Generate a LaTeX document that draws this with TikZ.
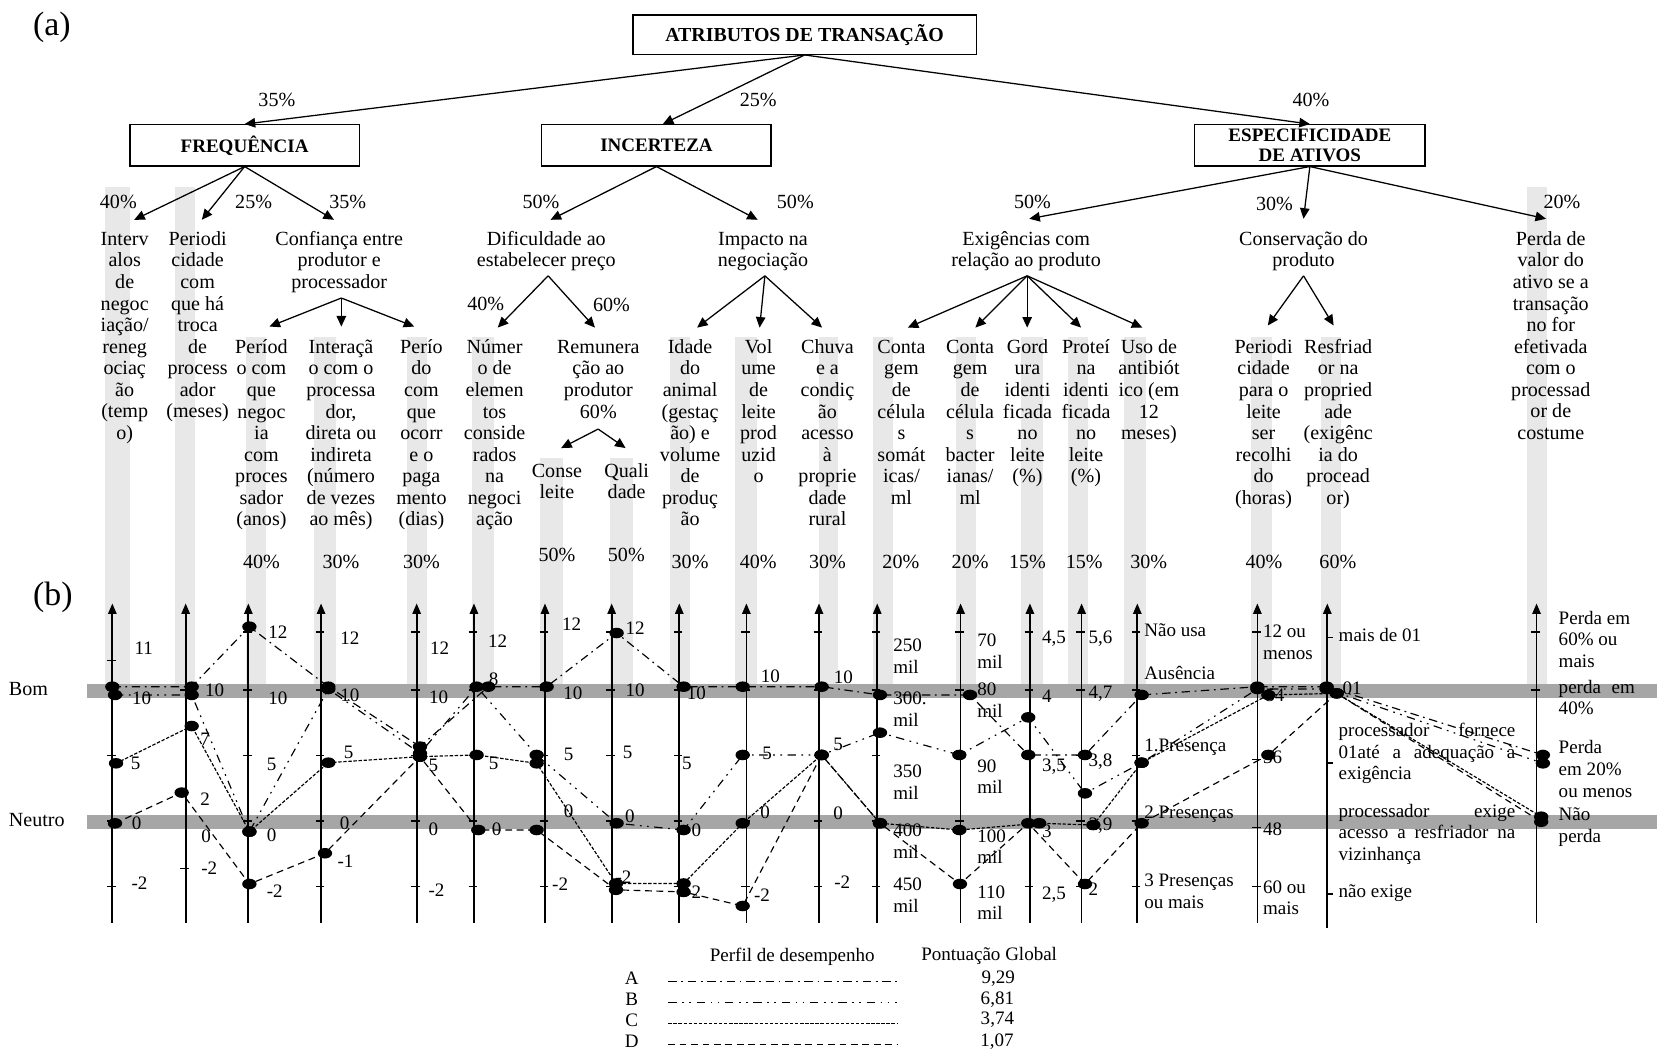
\documentclass[tikz,border=0pt]{standalone}
\usepackage{fontspec}
\setmainfont{Liberation Serif}
\usetikzlibrary{arrows.meta}
\definecolor{barg}{RGB}{232,232,232}
\definecolor{bandg}{RGB}{166,166,166}
\newcommand{\ftxt}{\fontsize{9.5}{10.2}\selectfont}
\newcommand{\flab}{\fontsize{9}{10.2}\selectfont}
\newcommand{\fleg}{\fontsize{9}{10}\selectfont}
\newcommand{\fhead}{\fontsize{9}{9.5}\selectfont\bfseries}
\newcommand{\fbig}{\fontsize{16}{18}\selectfont}
\newcommand{\frst}{\rule{0pt}{7.2pt}}
\tikzset{
  box/.style={draw, line width=0.6pt, inner sep=0pt, font=\fhead, align=center},
  tarrow/.style={line width=0.6pt, -{Triangle[length=5pt,width=4.5pt]}},
  col/.style={font=\ftxt, align=center, inner sep=0pt, anchor=north},
  pct/.style={font=\ftxt, inner sep=0pt},
  lab/.style={font=\flab, inner sep=0pt},
  labw/.style={font=\flab, inner sep=0pt, anchor=west, align=left},
  leg/.style={font=\fleg, inner sep=0pt},
  axisl/.style={line width=0.8pt, -{Triangle[length=5pt,width=4pt]}},
  tickl/.style={line width=0.6pt},
  pA/.style={line width=0.55pt, dash pattern=on 4pt off 2.2pt on 0.8pt off 2.2pt},
  pB/.style={line width=0.55pt, dash pattern=on 4pt off 2.6pt on 0.8pt off 2.6pt on 0.8pt off 2.6pt},
  pC/.style={line width=0.55pt, dash pattern=on 1.6pt off 0.8pt},
  pD/.style={line width=0.55pt, dash pattern=on 3.2pt off 2.2pt},
  dot/.style={fill=black}
}
\begin{document}
\begin{tikzpicture}[x=0.5pt,y=-0.5pt]
\useasboundingbox (0,0) rectangle (1568,993);

% light vertical bars
\foreach \a/\b/\s in {99/123/176.6, 165.6/184.5/176.6, 232.5/251.8/318.6, 296.7/317.7/318.6, 385.3/403.9/318.6, 446.8/467.4/318.6, 511/533/433.7, 577/599/433.7, 634.3/653/318.6, 695.5/716.4/318.6, 774.6/793.2/318.6, 826/845/318.6, 904.7/923.3/318.6, 966/987/318.6, 1010.4/1029.7/318.6, 1063.9/1084.2/318.6, 1183.5/1204/318.6, 1250.4/1269/318.6, 1445.4/1464/176.6}
  \fill[barg] (\a,\s) rectangle (\b,655);

% gray bands
\fill[bandg] (82,647.5) rectangle (1568,660.8);
\fill[bandg] (82,771.2) rectangle (1568,784.5);

% panel labels
\node[font=\fbig, inner sep=0pt] (la) at (49,26) {(a)};
\node[font=\fbig, inner sep=0pt] (lb) at (50,565) {(b)};

% boxes
\node[box, minimum width=162.5pt, minimum height=18.6pt, font=\fontsize{9.4}{9.5}\selectfont\bfseries] (root) at (761.4,32.8) {ATRIBUTOS DE TRANSAÇÃO};
\node[box, minimum width=108.5pt, minimum height=19.5pt] (freq) at (231.5,137.5) {FREQUÊNCIA};
\node[box, minimum width=108.5pt, minimum height=19.5pt] (inc) at (621.2,137.5) {INCERTEZA};
\node[box, minimum width=109pt, minimum height=19.5pt] (esp) at (1239.5,137.5) {ESPECIFICIDADE\\DE ATIVOS};

\draw[tarrow] (root.south) -- (freq.north);
\draw[tarrow] (root.south) -- ([xshift=3pt]inc.north);
\draw[tarrow] (root.south) -- (esp.north);

% percentages
\foreach \x/\y/\t [count=\i] in {262/94.6/35\%, 717.5/94.6/25\%, 1240.5/94.6/40\%,
  112/191.5/40\%, 240/191.5/25\%, 329/191.5/35\%, 512/191.5/50\%, 752.6/191.5/50\%, 977/191.5/50\%, 1206/193/30\%, 1478/191.5/20\%,
  459.6/288/40\%, 578.6/288.6/60\%,
  247.4/531.5/40\%, 322.7/531.5/30\%, 398.8/531.5/30\%, 527/525.2/50\%, 592.7/525.2/50\%, 653/531.5/30\%, 717.5/531.5/40\%, 783/531.5/30\%, 852.5/531.5/20\%, 918/531.5/20\%, 972.3/531.5/15\%, 1026/531.5/15\%, 1087/531.5/30\%, 1196/531.5/40\%, 1266/531.5/60\%}
  \node[pct] (pc\i) at (\x,\y) {\t};

% level 1 texts
\node[col] (c1) at (118,217.4) {\frst Interv\\alos\\de\\negoc\\iação/\\reneg\\ociaç\\ão\\(temp\\o)};
\node[col] (c2) at (187,217.4) {\frst Periodi\\cidade\\com\\que há\\troca\\de\\process\\ador\\(meses)};
\node[col] (c3) at (321,217.4) {\frst Confiança entre\\produtor e\\processador};
\node[col] (c4) at (517,217.4) {\frst Dificuldade ao\\estabelecer preço};
\node[col] (c5) at (722,217.4) {\frst Impacto na\\negociação};
\node[col] (c6) at (971,217.4) {\frst Exigências com\\relação ao produto};
\node[col] (c7) at (1233.5,217.4) {\frst Conservação do\\produto};
\node[col] (c8) at (1467.5,217.4) {\frst Perda de\\valor do\\ativo se a\\transação\\no for\\efetivada\\com o\\processad\\or de\\costume};

% level 2 texts
\node[col] (d1) at (247.4,319.6) {\frst Períod\\o com\\que\\negoc\\ia\\com\\proces\\sador\\(anos)};
\node[col] (d2) at (322.7,319.6) {\frst Interaçã\\o com o\\processa\\dor,\\direta ou\\indireta\\(número\\de vezes\\ao mês)};
\node[col] (d3) at (398.8,319.6) {\frst Perío\\do\\com\\que\\ocorr\\e o\\paga\\mento\\(dias)};
\node[col] (d4) at (468,319.6) {\frst Númer\\o de\\elemen\\tos\\conside\\rados\\na\\negoci\\ação};
\node[col] (d5) at (566.2,319.6) {\frst Remunera\\ção ao\\produtor\\60\%};
\node[col] (d6) at (653,319.6) {\frst Idade\\do\\animal\\(gestaç\\ão) e\\volume\\de\\produç\\ão};
\node[col] (d7) at (717.8,319.6) {\frst Vol\\ume\\de\\leite\\prod\\uzid\\o};
\node[col] (d8) at (783,319.6) {\frst Chuva\\e a\\condiç\\ão\\acesso\\à\\proprie\\dade\\rural};
\node[col] (d9) at (853,319.6) {\frst Conta\\gem\\de\\célula\\s\\somát\\icas/\\ml};
\node[col] (d10) at (918,319.6) {\frst Conta\\gem\\de\\célula\\s\\bacter\\ianas/\\ml};
\node[col] (d11) at (972.3,319.6) {\frst Gord\\ura\\identi\\ficada\\no\\leite\\(\%)};
\node[col] (d12) at (1027.7,319.6) {\frst Proteí\\na\\identi\\ficada\\no\\leite\\(\%)};
\node[col] (d13) at (1087.2,319.6) {\frst Uso de\\antibiót\\ico (em\\12\\meses)};
\node[col] (d14) at (1195.7,319.6) {\frst Periodi\\cidade\\para o\\leite\\ser\\recolhi\\do\\(horas)};
\node[col] (d15) at (1266.3,319.6) {\frst Resfriad\\or na\\propried\\ade\\(exigênc\\ia do\\procead\\or)};
\node[col] (e1) at (527,436.7) {\frst Conse\\leite};
\node[col] (e2) at (593,436.7) {\frst Quali\\dade};

% tree connectors, level 2
\coordinate (t-int) at (127,208);
\coordinate (t-per) at (191,208);
\coordinate (t-conf) at (316,208);
\coordinate (t-dif) at (521,208);
\coordinate (t-imp) at (717,208);
\coordinate (t-exi) at (974,207);
\coordinate (t-con) at (1233.5,207);
\coordinate (t-perda) at (1463,207);
\draw[tarrow] (freq.south) -- (t-int);
\draw[tarrow] (freq.south) -- (t-per);
\draw[tarrow] (freq.south) -- (t-conf);
\draw[tarrow] (inc.south) -- (t-dif);
\draw[tarrow] (inc.south) -- (t-imp);
\draw[tarrow] (esp.south) -- (t-exi);
\draw[tarrow] (esp.south) -- (t-con);
\draw[tarrow] (esp.south) -- (t-perda);

% split connectors
\coordinate (s-conf) at (323,282);
\coordinate (s-dif) at (518.7,261);
\coordinate (s-imp) at (723.8,261);
\coordinate (s-exi) at (972,261);
\coordinate (s-con) at (1233.5,261);
\coordinate (s-rem) at (566,406);
\foreach \x in {255,323,392} \draw[tarrow] (s-conf) -- (\x,309);
\foreach \x in {471,563} \draw[tarrow] (s-dif) -- (\x,310);
\foreach \x in {659.6,718.8,777.9} \draw[tarrow] (s-imp) -- (\x,310);
\foreach \x in {859,923,972,1023,1081} \draw[tarrow] (s-exi) -- (\x,310);
\foreach \x in {1199.7,1262} \draw[tarrow] (s-con) -- (\x,308);
\foreach \x in {531,592} \draw[tarrow] (s-rem) -- (\x,424);

% chart row labels
\node[font=\ftxt, inner sep=0pt, anchor=west] (bom) at (8,652.3) {Bom};
\node[font=\ftxt, inner sep=0pt, anchor=west] (neutro) at (8,776) {Neutro};

% axes
\foreach \x [count=\i] in {106.3,175.7,235,303.8,394.3,448.5,515.7,578.8,642.8,706.3,775,830.1,909,974.6,1023.5,1076.2,1189.8,1256,1454} {
  \coordinate (axb\i) at (\x,873);
  \coordinate (axt\i) at (\x,571);
  \draw[axisl] (axb\i) -- (axt\i);
}
\draw[line width=0.8pt] (axb18) -- (1256,878.5);

% ticks
\foreach \x in {235,303.8,394.3,448.5,515.7,578.8,642.8,706.3,775,830.1,909,974.6,1023.5,1076.2}
  \foreach \yy in {598,653,715,777,839}
    \draw[tickl] (\x-5,\yy) -- (\x+3,\yy);
\foreach \yy in {625,653,715,777,839} \draw[tickl] (101.3,\yy) -- (109.3,\yy);
\foreach \yy in {653,822} \draw[tickl] (170.7,\yy) -- (178.7,\yy);
\foreach \yy in {598,719,783,839} \draw[tickl] (1184.8,\yy) -- (1192.8,\yy);
\foreach \yy in {603,722,846} \draw[tickl] (1256,\yy) -- (1261,\yy);
\foreach \yy in {598,653} \draw[tickl] (1449,\yy) -- (1457,\yy);

% tick value labels (centred)
\foreach \x/\y/\t [count=\i] in {136/613/11, 134/661/10, 128.4/722/5, 129.3/779/0, 132/836/-2,
 203/653/10, 194/700/7, 194/756/2, 195/791/0, 198/822/-2,
 263/598/12, 263/661/10, 257/723/5, 257/790/0, 260/843/-2,
 331/604/12, 331/658/10, 330/712/5, 326/779/0, 327/815/-1,
 416/613/12, 415/660/10, 410/724/5, 410/785/0, 413/842/-2,
 471/607/12, 467/643/8, 467/722/5, 470/785/0,
 541/591/12, 542/656/10, 538/714/5, 538/768/0, 530/837/-2,
 601/594/12, 601/653/10, 594/712/5, 596/772/0, 590/830/-2,
 659/656/10, 650/722/5, 659/786/0, 656/844/-2,
 729/640/10, 726/713/5, 724/769/0, 721/847/-2,
 798/641/10, 793/704/5, 793/770/0, 797/835/-2}
  \node[lab] (tl\i) at (\x,\y) {\t};

% side labels (left aligned)
\foreach \x/\y/\t [count=\i] in {845/621/{250\\mil}, 845/671/{300.\\mil}, 845/740/{350\\mil}, 845/796/{400\\mil}, 845/847/{450\\mil},
 924.5/616/{70\\mil}, 924.5/662.5/{80\\mil}, 924.5/735/{90\\mil}, 924.5/801/{100\\mil}, 924.5/854/{110\\mil},
 985.7/604/{4,5}, 985.7/659/{4}, 985.7/725/{3,5}, 985.7/787/{3}, 985.7/847/{2,5},
 1029.8/604/{5,6}, 1029.8/656/{4,7}, 1029.8/721/{3,8}, 1029.8/781/{2,9}, 1029.8/841/{2},
 1082.5/596/{Não usa}, 1082.5/637/{Ausência}, 1082.5/707/{1.Presença}, 1082.5/770/{2 Presenças}, 1082.5/843.5/{3 Presenças\\ou mais},
 1194.8/608/{12 ou\\menos}, 1197/658/{54}, 1194.8/717/{36}, 1194.8/785/{48}, 1194.8/849.5/{60 ou\\mais},
 1266.4/601/{mais de 01}, 1270/651/{01}, 1266.4/845/{não exige},
 1474.6/605/{Perda em\\60\% ou\\mais}, 1474.6/727.7/{Perda\\em 20\%\\ou menos}, 1474.6/782.5/{Não\\perda}}
  \node[labw] (sl\i) at (\x,\y) {\t};
\node[labw] (r18a) at (1266.4,713) {\makebox[83.6pt][s]{processador fornece}\\\makebox[83.6pt][s]{01até a adequação à}\\exigência};
\node[labw] (r18b) at (1266.4,789.5) {\makebox[83.6pt][s]{processador exige}\\\makebox[83.6pt][s]{acesso a resfriador na}\\vizinhança};
\node[labw] (r19b) at (1474.6,660) {\makebox[36pt][s]{perda em}\\40\%};

% profile points
\foreach \x/\y [count=\i] in {106.3/649.8, 181.4/649.8, 236/593, 310.7/649.8, 397.4/706.5, 462/649.8, 517.3/649.8, 583.5/599, 646.9/649.8, 702.8/649.8, 777.5/649.8, 832.7/657.6, 917.9/657.6, 973/714.4, 1026.7/714.4, 1080.3/657.6, 1189.8/649.8, 1255.4/649.8, 1460/714.4}
  \coordinate (A\i) at (\x,\y);
\foreach \x/\y [count=\i] in {108.8/657.6, 181.4/657.6, 236/787, 310.7/652, 397.4/712.8, 451/649.8, 507.8/714.4, 583.5/779, 646.9/785.4, 702.8/714.4, 777.5/714.4, 832.7/693.3, 907.8/714.4, 973/678.8, 1026.7/750.7, 1080.3/721.7, 1189.8/652, 1255.4/652, 1460/722.3}
  \coordinate (B\i) at (\x,\y);
\foreach \x/\y [count=\i] in {109.8/722.3, 181.4/687, 236/787, 310.7/721.7, 397.4/716, 451/714.4, 507.8/722.3, 582.9/836, 646.9/836, 702.8/779, 777.5/714.4, 832.7/779, 907.8/785.4, 983.4/779, 1034.6/780.7, 1080.3/721.7, 1200.2/657.6, 1264.9/656.1, 1458.4/772.8}
  \coordinate (C\i) at (\x,\y);
\foreach \x/\y [count=\i] in {108.8/779.1, 171.9/750, 236/836.5, 307.5/807.4, 397.4/716, 452.6/785.4, 507.8/785.4, 582.9/842, 646.9/844, 702.8/857.3, 777.5/714.4, 832.7/779, 908.4/836.5, 973/779, 1026.7/836.5, 1080.3/779, 1200.2/714.4, 1264.9/656.1, 1458.4/777.6}
  \coordinate (D\i) at (\x,\y);

\draw[pA] (A1) \foreach \i in {2,...,19} { -- (A\i) };
\draw[pB] (B1) \foreach \i in {2,...,19} { -- (B\i) };
\draw[pC] (C1) \foreach \i in {2,...,19} { -- (C\i) };
\draw[pD] (D1) \foreach \i in {2,...,19} { -- (D\i) };

\foreach \q in {A,B,C,D} {
  \foreach \i in {1,...,19} {
    \fill[dot] (\q\i) ellipse [x radius=3.4pt, y radius=2.5pt];
  }
}

% legend
\node[leg] (lgh1) at (749.7,905) {Perfil de desempenho};
\node[leg] (lgh2) at (936,905) {Pontuação Global};
\node[leg] (lgA) at (597.7,925.8) {A};
\node[leg] (lgB) at (597.7,945.6) {B};
\node[leg] (lgC) at (597.7,965.2) {C};
\node[leg] (lgD) at (597.7,985.5) {D};
\node[leg] (lgvA) at (944.7,925.8) {9,29};
\node[leg] (lgvB) at (943.8,945.6) {6,81};
\node[leg] (lgvC) at (943.8,965.2) {3,74};
\node[leg] (lgvD) at (943.5,985.5) {1,07};
\coordinate (lgA1) at (632.4,929); \coordinate (lgA2) at (848.5,929);
\coordinate (lgB1) at (632.4,948.8); \coordinate (lgB2) at (848.5,948.8);
\coordinate (lgC1) at (632.4,968.4); \coordinate (lgC2) at (848.5,968.4);
\coordinate (lgD1) at (632.4,988.7); \coordinate (lgD2) at (848.5,988.7);
\draw[pA] (lgA1) -- (lgA2);
\draw[pB] (lgB1) -- (lgB2);
\draw[pC] (lgC1) -- (lgC2);
\draw[pD] (lgD1) -- (lgD2);
\end{tikzpicture}
\end{document}
